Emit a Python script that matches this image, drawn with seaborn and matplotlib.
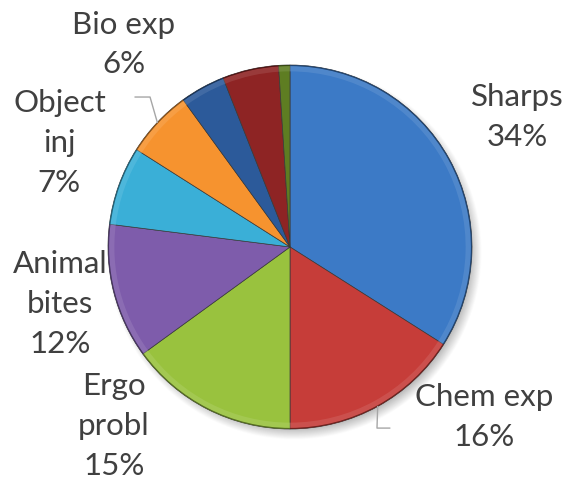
import numpy as np
import matplotlib
matplotlib.use("Agg")
import matplotlib.pyplot as plt
import seaborn as sns
from matplotlib.patches import Wedge

# Injury categories and their shares (%), clockwise from 12 o'clock
categories = ["Sharps", "Chem exp", "Ergo probl", "Animal bites",
              "Object inj", "Bio exp", "Other 1", "Other 2", "Other 3"]
shares = [34, 16, 15, 12, 7, 6, 4, 5, 1]
label_text = ["Sharps\n34%", "Chem exp\n16%", "Ergo\nprobl\n15%", "Animal\nbites\n12%",
              "Object\ninj\n7%", "Bio exp\n6%", None, None, None]

colors = ["#3C7AC6", "#C63D39", "#99C23E", "#7E5CAB", "#3AAFD7",
          "#F6932F", "#2C5A9A", "#8E2424", "#5E7D22"]

# label placement: (angle offset from wedge middle in degrees, radius)
label_place = [(1.0, 1.44), (20.0, 1.42), (-17.5, 1.38), (-0.5, 1.30),
               (-4.5, 1.39), (-7.4, 1.44), None, None, None]
# leader lines: elbow and end points (axes units) for labels set away from their wedge
leaders = {1: [(0.478, -0.995), (0.549, -0.995)],
           5: [(-0.769, 0.824), (-0.852, 0.824)]}

sns.set_theme(style="white")
plt.rcParams["font.family"] = ["Lato", "DejaVu Sans"]

fig = plt.figure(figsize=(5.68, 4.79), dpi=100)
ax = fig.add_axes([0, 0, 1, 1])

# soft drop shadow behind the pie
gx = np.linspace(-1.6, 1.55, 600)
gy = np.linspace(-1.3, 1.4, 520)
X, Y = np.meshgrid(gx, gy)
d = np.hypot(X - 0.025, Y + 0.03)
alpha = np.clip((1.03 - d) / 0.07, 0, 1) * 0.45
shadow = np.zeros(X.shape + (4,))
shadow[..., :3] = 0.35
shadow[..., 3] = alpha
ax.imshow(shadow, extent=(gx[0], gx[-1], gy[0], gy[-1]), origin="lower",
          zorder=0, interpolation="bilinear")

wedges, _ = ax.pie(shares, colors=colors, startangle=90, counterclock=False,
                   radius=1.0,
                   wedgeprops=dict(edgecolor="#3a3a3a", linewidth=0.5, zorder=2))

# bevel: lighter rim and a thin dark outline on each slice
for w, c in zip(wedges, colors):
    base = np.array(matplotlib.colors.to_rgb(c))
    light = base + (1 - base) * 0.2
    ax.add_patch(Wedge((0, 0), 0.995, w.theta1, w.theta2, width=0.03,
                       facecolor=light, edgecolor="none", alpha=0.5, zorder=3))
    ax.add_patch(Wedge((0, 0), 1.0, w.theta1, w.theta2, width=0.006,
                       facecolor=base * 0.55, edgecolor="none", zorder=3))

for i, w in enumerate(wedges):
    if label_text[i] is None:
        continue
    mid = 0.5 * (w.theta1 + w.theta2)
    off, r = label_place[i]
    ang = np.deg2rad(mid + off)
    ax.text(r * np.cos(ang), r * np.sin(ang), label_text[i], ha="center",
            va="center", fontsize=22.5, color="#404040", linespacing=1.52,
            zorder=5)
    if i in leaders:
        m = np.deg2rad(mid)
        pts = [(np.cos(m), np.sin(m))] + leaders[i]
        xs, ys = zip(*pts)
        ax.plot(xs, ys, color="#a6a6a6", lw=1.0, zorder=4)

ax.set_xlim(-290 / 182, (568 - 290) / 182)
ax.set_ylim(-(479 - 247) / 182, 247 / 182)
ax.set_aspect("auto")
ax.axis("off")

fig.savefig("out.png", dpi=100)
